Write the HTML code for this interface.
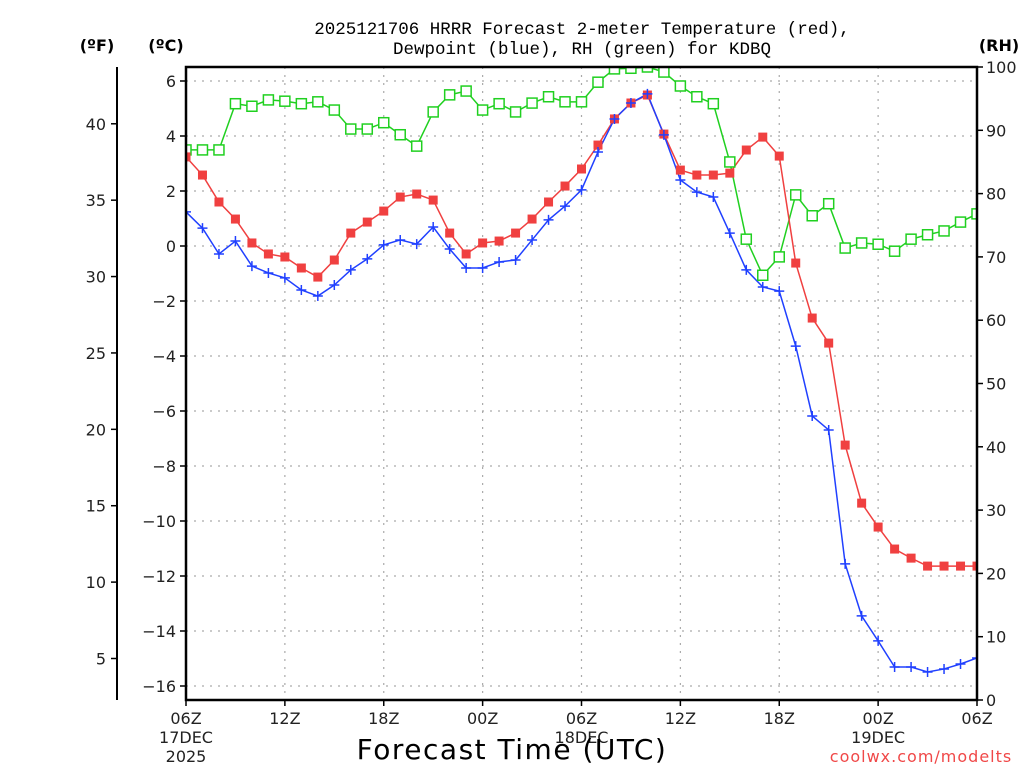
<!DOCTYPE html>
<html><head><meta charset="utf-8"><style>
html,body{margin:0;padding:0;background:#fff;}
svg{display:block;font-family:"DejaVu Sans","Liberation Sans",sans-serif;}
</style></head><body>
<svg id="chart" width="1024" height="768" viewBox="0 0 1024 768" xmlns="http://www.w3.org/2000/svg">
<defs><clipPath id="pc"><rect x="186" y="67" width="791" height="633"/></clipPath></defs>
<g font-size="17.5" text-anchor="middle" fill="#000" font-family="Liberation Mono, monospace">
<text x="582" y="34">2025121706 HRRR Forecast 2-meter Temperature (red),</text>
<text x="582" y="54">Dewpoint (blue), RH (green) for KDBQ</text>
</g>
<text x="97" y="51" font-size="16" font-weight="bold" text-anchor="middle">(ºF)</text>
<text x="166" y="51" font-size="16" font-weight="bold" text-anchor="middle">(ºC)</text>
<text x="999" y="51" font-size="16" font-weight="bold" text-anchor="middle">(RH)</text>
<g id="grid"></g>
<g id="axes"></g>
<g id="series" clip-path="url(#pc)"></g>
<rect x="186" y="67" width="791" height="633" fill="none" stroke="#000" stroke-width="2.5"/>
<text x="512" y="759" font-size="28" letter-spacing="1.5" text-anchor="middle">Forecast Time (UTC)</text>
<text x="921" y="762" font-size="16" fill="#f04848" text-anchor="middle" letter-spacing="1">coolwx.com/modelts</text>
</svg>
<script>
const hours=[...Array(49).keys()];
const tempC=[3.24,2.58,1.6,0.98,0.11,-0.29,-0.4,-0.8,-1.13,-0.51,0.47,0.87,1.27,1.78,1.89,1.67,0.47,-0.29,0.11,0.18,0.47,0.98,1.6,2.18,2.8,3.67,4.62,5.2,5.49,4.07,2.76,2.58,2.58,2.65,3.49,3.96,3.27,-0.62,-2.62,-3.53,-7.24,-9.35,-10.22,-11.02,-11.35,-11.64,-11.64,-11.64,-11.64];
const dewC=[1.24,0.65,-0.29,0.18,-0.73,-0.98,-1.16,-1.6,-1.82,-1.42,-0.87,-0.47,0.04,0.22,0.07,0.69,-0.11,-0.8,-0.8,-0.58,-0.51,0.22,0.95,1.45,2.04,3.42,4.62,5.2,5.53,4.04,2.4,1.96,1.78,0.47,-0.87,-1.49,-1.64,-3.64,-6.18,-6.69,-11.56,-13.45,-14.36,-15.31,-15.31,-15.49,-15.38,-15.2,-14.98];
const rh=[86.9,86.9,86.9,94.2,93.8,94.8,94.6,94.2,94.5,93.2,90.2,90.2,91.2,89.3,87.5,92.9,95.6,96.2,93.2,94.2,92.9,94.3,95.3,94.5,94.5,97.6,99.7,99.8,100,99.2,97,95.3,94.2,85,72.8,67.1,70,79.8,76.5,78.4,71.4,72.2,72,70.9,72.8,73.5,74.1,75.5,76.8];
const cTicks=[6,4,2,0,-2,-4,-6,-8,-10,-12,-14,-16];
const fTicks=[40,35,30,25,20,15,10,5];
const rhTicks=[100,90,80,70,60,50,40,30,20,10,0];
const xTickHours=[0,6,12,18,24,30,36,42,48];
const xTickLabels=["06Z","12Z","18Z","00Z","06Z","12Z","18Z","00Z","06Z"];
const xSubLabels={0:["17DEC","2025"],24:["18DEC"],42:["19DEC"]};

const NS="http://www.w3.org/2000/svg";
const X=h=>186+h*(791/48);
const YC=c=>246-27.5*c;
const YR=r=>700-r*6.33;
const YF=f=>YC((f-32)/1.8);
function mk(tag,attrs,parent,text){const e=document.createElementNS(NS,tag);for(const k in attrs)e.setAttribute(k,attrs[k]);if(text!==undefined)e.textContent=text;parent.appendChild(e);return e;}
const grid=document.getElementById('grid'),axes=document.getElementById('axes'),ser=document.getElementById('series');
cTicks.forEach(c=>{
 const g=mk('line',{x1:186,x2:977,y1:YC(c),y2:YC(c),stroke:'#aaa','stroke-dasharray':'2,6','stroke-width':1.2},grid);
 
 
 mk('line',{x1:180,x2:186,y1:YC(c),y2:YC(c),stroke:'#000','stroke-width':1.5},axes);
 const t=mk('text',{x:176,y:YC(c)+6,'font-size':16,'text-anchor':'end',fill:'#222'},axes,c<0?'\u2212'+(-c):String(c));
 
 
});
xTickHours.forEach((h,i)=>{
 if(i>0&&i<xTickHours.length-1){const g=mk('line',{x1:X(h),x2:X(h),y1:67,y2:700,stroke:'#aaa','stroke-dasharray':'2,6','stroke-width':1.2},grid);
 
 }
 mk('line',{x1:X(h),x2:X(h),y1:700,y2:706,stroke:'#000','stroke-width':1.5},axes);
 const t=mk('text',{x:X(h),y:724,'font-size':16,'text-anchor':'middle',fill:'#222'},axes,xTickLabels[i]);
 
 
 (xSubLabels[h]||[]).forEach((s,j)=>{const u=mk('text',{x:X(h),y:743+j*19,'font-size':16,'text-anchor':'middle',fill:'#222'},axes,s);
 
 });
});
mk('line',{x1:117,x2:117,y1:67,y2:700,stroke:'#000','stroke-width':2},axes);
fTicks.forEach(f=>{
 mk('line',{x1:111,x2:117,y1:YF(f),y2:YF(f),stroke:'#000','stroke-width':1.5},axes);
 const t=mk('text',{x:106,y:YF(f)+6,'font-size':16,'text-anchor':'end',fill:'#222'},axes,String(f));
 
 
});
rhTicks.forEach(r=>{
 mk('line',{x1:977,x2:983,y1:YR(r),y2:YR(r),stroke:'#000','stroke-width':1.5},axes);
 const t=mk('text',{x:986,y:YR(r)+6,'font-size':16,'text-anchor':'start',fill:'#222'},axes,String(r));
 
 
});
function line(vals,yf,color,name){
 const p=mk('polyline',{points:vals.map((v,i)=>X(hours[i])+','+yf(v)).join(' '),fill:'none',stroke:color,'stroke-width':1.5},ser);
 
 
}
line(rh,YR,'#20d020','rh-line');
line(tempC,YC,'#f04040','temperature-line');
line(dewC,YC,'#2040ff','dewpoint-line');
rh.forEach((v,i)=>{const m=mk('rect',{x:X(hours[i])-5,y:YR(v)-5,width:10,height:10,fill:'#fff',stroke:'#20d020','stroke-width':1.5},ser);
 
 });
tempC.forEach((v,i)=>{const m=mk('rect',{x:X(hours[i])-4.5,y:YC(v)-4.5,width:9,height:9,fill:'#f04040'},ser);
 
 });
dewC.forEach((v,i)=>{const x=X(hours[i]),y=YC(v);const m=mk('path',{d:`M${x-5},${y}H${x+5}M${x},${y-5}V${y+5}`,stroke:'#2040ff','stroke-width':1.5},ser);
 
 });
</script>
</body></html>
